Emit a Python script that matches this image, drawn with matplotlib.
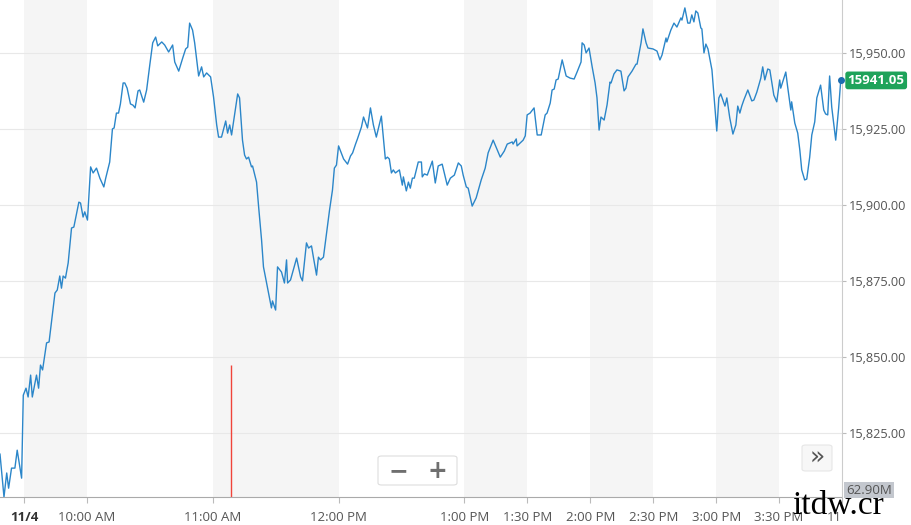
import matplotlib
matplotlib.use("Agg")
import matplotlib.pyplot as plt
from matplotlib.patches import FancyBboxPatch, Rectangle

plt.rcParams['font.family'] = ['Open Sans', 'DejaVu Sans']

# minutes after 9:30 AM
times = [
    -11.4, -9.5, -8.2, -7.3, -5.9, -4.3, -3.2, -1.1, -0.3, 1.0,
    2.0, 3.2, 4.0, 6.0, 7.0, 7.9, 8.9, 10.8, 12.0, 14.8,
    15.9, 17.1, 17.9, 18.7, 19.8, 21.1, 22.7, 23.8, 26.2, 27.0,
    28.2, 29.0, 30.3, 31.8, 33.0, 34.6, 36.2, 38.1, 39.0, 40.9,
    42.2, 43.0, 44.1, 45.1, 46.0, 47.3, 48.1, 49.2, 50.8, 52.0,
    53.0, 54.4, 55.2, 57.1,
    58.5, 60.0, 61.4, 62.8, 63.8, 65.7, 67.1, 69.0, 70.9, 71.9,
    73.8, 75.7, 77.1, 78.1, 79.0, 80.4, 81.4, 83.3, 84.7, 85.7,
    87.1, 89.0, 90.4, 91.9, 92.8, 94.2, 96.2, 97.1, 98.1, 99.0,
    100.4, 101.9, 102.8, 104.2, 105.2, 106.1, 107.1, 108.5, 109.0, 110.9,
    111.9, 113.3, 114.2, 115.7, 118.0, 118.5, 120.0, 120.9, 122.8,
    124.2, 125.2, 125.7, 127.1, 130.0, 131.9, 132.8, 134.7, 135.7, 137.1,
    138.0, 139.5, 140.4, 141.4, 142.8, 145.7, 147.1, 148.0, 149.0, 150.0,
    152.4, 154.3, 155.7, 156.7, 158.1, 159.0, 160.9, 161.9, 163.8, 165.2,
    166.6, 168.0, 170.4, 172.3, 173.3, 174.2, 175.2, 176.1, 177.1, 179.0,
    180.4, 180.9, 182.3, 183.3, 184.2, 185.2, 186.1, 188.0, 189.5,
    189.9, 190.9, 192.3, 194.7, 196.1, 197.5, 199.4, 201.8, 203.3, 205.2,
    207.1, 208.5, 209.4, 210.9, 211.8, 213.7, 215.6, 218.0, 219.9, 221.3,
    223.7, 227.1, 229.0, 230.4, 232.8, 233.2, 234.7, 235.1, 238.0, 239.0,
    239.9, 241.3, 243.2, 244.7, 246.6, 248.5, 249.4, 250.9, 251.8, 252.8,
    253.7, 254.7, 256.6,
    258.5, 260.4, 262.3, 263.7, 265.6, 266.1, 267.1, 268.0, 269.4, 270.9,
    272.3, 273.2, 274.2, 275.1, 276.6, 278.0, 279.4, 279.9, 281.3, 282.7,
    284.6, 286.1, 287.0, 288.0, 289.9, 291.8, 292.3, 294.2, 295.1, 296.6,
    297.5, 299.9, 301.8, 303.2, 304.2, 306.1, 306.5, 308.4, 309.9, 311.3,
    313.2, 313.7, 315.1, 316.5, 317.5, 318.4, 319.4, 320.3, 321.3, 322.7,
    323.2, 324.2, 325.1, 326.1, 328.0,
    330.3, 331.3, 332.2, 333.2, 334.2, 335.1, 336.5, 338.0, 339.4, 340.3,
    341.3, 342.2, 343.2, 345.1, 347.0, 348.0, 349.4, 351.3, 352.2, 353.2,
    354.6, 355.6, 356.5, 357.5, 358.9, 360.3, 360.8, 363.2, 364.1, 365.6,
    366.0, 367.5, 368.9, 369.9, 370.8, 372.2, 373.2, 374.6, 375.6, 377.0,
    378.0, 379.8, 381.3, 382.2, 383.2, 384.1, 385.1, 387.0, 388.4, 389.4,
]

prices = [
    15818.1, 15804.0, 15811.9, 15806.9, 15813.5, 15813.5, 15819.4, 15810.2, 15837.5, 15839.8,
    15836.9, 15844.1, 15836.9, 15844.1, 15839.8, 15847.4, 15845.8, 15854.7, 15855.0, 15871.1,
    15872.1, 15876.7, 15872.7, 15876.7, 15876.0, 15881.0, 15892.5, 15892.8, 15901.0, 15900.7,
    15896.1, 15897.8, 15895.1, 15912.6, 15910.6, 15912.2, 15908.9, 15906.0, 15908.9, 15914.2,
    15925.1, 15925.4, 15930.3, 15930.3, 15933.3, 15940.2, 15940.2, 15938.5, 15933.3, 15932.9,
    15932.0, 15937.6, 15937.9, 15933.9,
    15937.9, 15946.1, 15953.4, 15955.3, 15952.4, 15953.7, 15952.7, 15950.4, 15952.7, 15947.1,
    15944.1, 15948.4, 15951.4, 15952.0, 15959.9, 15957.6, 15953.4, 15942.5, 15945.5, 15942.2,
    15943.5, 15942.2, 15935.6, 15926.4, 15922.4, 15922.4, 15927.7, 15923.7, 15926.4, 15923.1,
    15929.7, 15936.6, 15935.3, 15921.4, 15916.5, 15915.2, 15915.8, 15912.6, 15912.9, 15907.6,
    15899.4, 15888.5, 15879.7, 15874.4, 15866.2, 15868.5, 15865.5, 15879.7, 15878.0,
    15874.4, 15882.0, 15874.4, 15875.4, 15882.6, 15876.4, 15875.1, 15887.6, 15885.9, 15886.6,
    15882.9, 15877.0, 15882.9, 15882.0, 15882.9, 15898.4, 15905.0, 15912.2, 15913.2, 15919.5,
    15915.2, 15913.5, 15916.2, 15917.2, 15920.1, 15921.8, 15925.7, 15929.0, 15925.4, 15932.0,
    15926.4, 15922.4, 15929.3, 15915.2, 15915.8, 15915.2, 15910.6, 15911.6, 15910.6, 15911.6,
    15906.6, 15909.3, 15904.7, 15907.6, 15905.6, 15908.9, 15908.9, 15914.2, 15914.2,
    15909.3, 15910.3, 15909.9, 15914.5, 15907.3, 15912.9, 15913.5, 15906.6, 15908.9, 15909.9,
    15913.9, 15912.9, 15909.9, 15906.0, 15905.6, 15899.7, 15902.4, 15908.3, 15912.2, 15917.2,
    15921.4, 15915.8, 15917.8, 15920.1, 15920.8, 15920.1, 15921.8, 15919.5, 15921.4, 15922.8,
    15929.7, 15930.3, 15932.0, 15923.1, 15923.1, 15929.7, 15930.3, 15933.6, 15937.9, 15938.2,
    15941.2, 15941.5, 15947.8,
    15942.5, 15941.8, 15941.5, 15943.8, 15947.1, 15953.4, 15952.7, 15950.1, 15951.7, 15945.5,
    15940.2, 15935.3, 15924.7, 15929.0, 15928.0, 15933.0, 15940.5, 15940.2, 15943.2, 15944.5,
    15944.1, 15937.6, 15938.5, 15942.2, 15944.1, 15946.4, 15946.4, 15953.4, 15958.0, 15953.4,
    15951.7, 15951.4, 15950.7, 15947.8, 15949.4, 15955.0, 15953.7, 15957.6, 15959.9, 15958.6,
    15961.6, 15960.9, 15964.9, 15959.9, 15959.9, 15962.6, 15960.3, 15963.9, 15963.2, 15958.3,
    15958.0, 15950.1, 15953.0, 15951.4, 15944.5,
    15924.4, 15935.3, 15936.6, 15934.6, 15932.6, 15935.3, 15928.7, 15923.4, 15926.4, 15932.6,
    15930.3, 15932.6, 15934.6, 15937.9, 15934.3, 15934.6, 15937.2, 15941.8, 15945.5, 15941.2,
    15944.8, 15944.5, 15940.5, 15936.2, 15934.0, 15941.2, 15938.5, 15943.8, 15938.9, 15931.3,
    15934.0, 15927.0, 15923.7, 15918.1, 15911.6, 15908.3, 15908.6, 15915.8, 15923.1, 15927.4,
    15935.3, 15939.5, 15931.3, 15930.0, 15929.7, 15942.5, 15932.3, 15921.4, 15931.9, 15941.05,
]

tick_pos = [0, 30, 90, 150, 210, 240, 270, 300, 330, 360, 390]
tick_labels = ["11/4", "10:00 AM", "11:00 AM", "12:00 PM", "1:00 PM", "1:30 PM",
               "2:00 PM", "2:30 PM", "3:00 PM", "3:30 PM", "11"]
y_ticks = [15825, 15850, 15875, 15900, 15925, 15950]
bands = [(0, 30), (90, 150), (210, 240), (270, 300), (330, 360)]

spike_time = 98.6
spike_top = 15847.4
volume_label = "62.90M"

W, H = 911, 525
fig = plt.figure(figsize=(W / 100, H / 100), dpi=100)
ax = fig.add_axes([0, 28 / H, 842 / W, 497 / H])
ax.set_xlim(-11.4, 389.5)
ax.set_ylim(15804.0, 15967.5)

for a, b in bands:
    ax.axvspan(a, b, color='#f5f5f5', lw=0, zorder=0)

ax.set_yticks(y_ticks)
ax.grid(axis='y', color='#e8e8e8', lw=0.8, zorder=1)
ax.yaxis.tick_right()
ax.set_yticklabels([f"{v:,.2f}" for v in y_ticks])
ax.tick_params(axis='y', length=3, width=0.8, color='#bbbbbb', pad=2,
               labelsize=9.2, labelcolor='#555555')

ax.set_xticks(tick_pos)
ax.set_xticklabels(tick_labels)
ax.tick_params(axis='x', length=4, width=0.8, color='#bbbbbb', pad=6,
               labelsize=9.5, labelcolor='#555555')
xl = ax.get_xticklabels()
xl[0].set_fontweight('bold')
xl[0].set_color('#333333')
xl[-1].set_horizontalalignment('right')

for s in ['top', 'left']:
    ax.spines[s].set_visible(False)
ax.spines['right'].set_color('#cccccc')
ax.spines['right'].set_linewidth(0.8)
ax.spines['bottom'].set_color('#aaaaaa')
ax.spines['bottom'].set_linestyle((0, (1, 1)))
ax.spines['bottom'].set_linewidth(0.8)

ax.vlines(spike_time, ax.get_ylim()[0], spike_top, color='#f0443a', lw=1.0, zorder=2)
ax.plot(times, prices, color='#2b86c9', lw=1.0, zorder=3)
ax.plot(times[-1], prices[-1], 'o', color='#1d6db0', ms=4, zorder=4, clip_on=False)

ax.annotate(f"{prices[-1]:.2f}", xy=(times[-1], prices[-1]), xytext=(5, 0),
            textcoords='offset points', va='center', ha='left', color='white',
            fontsize=9.5, fontweight='bold', annotation_clip=False,
            bbox=dict(boxstyle='round,pad=0.18,rounding_size=0.2', fc='#1ea35a', ec='none'))

fig.text(846 / W, 1 - 490 / H, volume_label, ha='left', va='center', fontsize=9.5,
         color='#555555',
         bbox=dict(boxstyle='square,pad=0.15', fc='#c3c7ce', ec='none'))

# zoom buttons
btn = FancyBboxPatch((378 / W, 1 - 485 / H), 79 / W, 29 / H,
                     boxstyle='round,pad=0,rounding_size=0.004', transform=fig.transFigure,
                     fc='white', ec='#dddddd', lw=0.8)
fig.patches.append(btn)
fig.add_artist(Rectangle((417 / W, 1 - 483 / H), 0.8 / W, 25 / H,
                         transform=fig.transFigure, fc='#e2e2e2', ec='none'))
fig.text(398 / W, 1 - 471 / H, "\u2212", ha='center', va='center', fontsize=17,
         fontweight='bold', color='#6f6f6f', family='DejaVu Sans')
fig.text(437 / W, 1 - 471 / H, "+", ha='center', va='center', fontsize=17,
         fontweight='bold', color='#6f6f6f', family='DejaVu Sans')

nxt = FancyBboxPatch((802 / W, 1 - 471 / H), 30 / W, 26 / H,
                     boxstyle='round,pad=0,rounding_size=0.004', transform=fig.transFigure,
                     fc='#f7f7f7', ec='#e6e6e6', lw=0.8)
fig.patches.append(nxt)
fig.text(817 / W, 1 - 458 / H, "\u00bb", ha='center', va='center', fontsize=18,
         color='#555555', family='DejaVu Sans')

fig.text(838 / W, 1 - 506 / H, "itdw.cr", ha='center', va='center', fontsize=24,
         color='black', family='Liberation Serif')

fig.savefig("out.png", dpi=100)
